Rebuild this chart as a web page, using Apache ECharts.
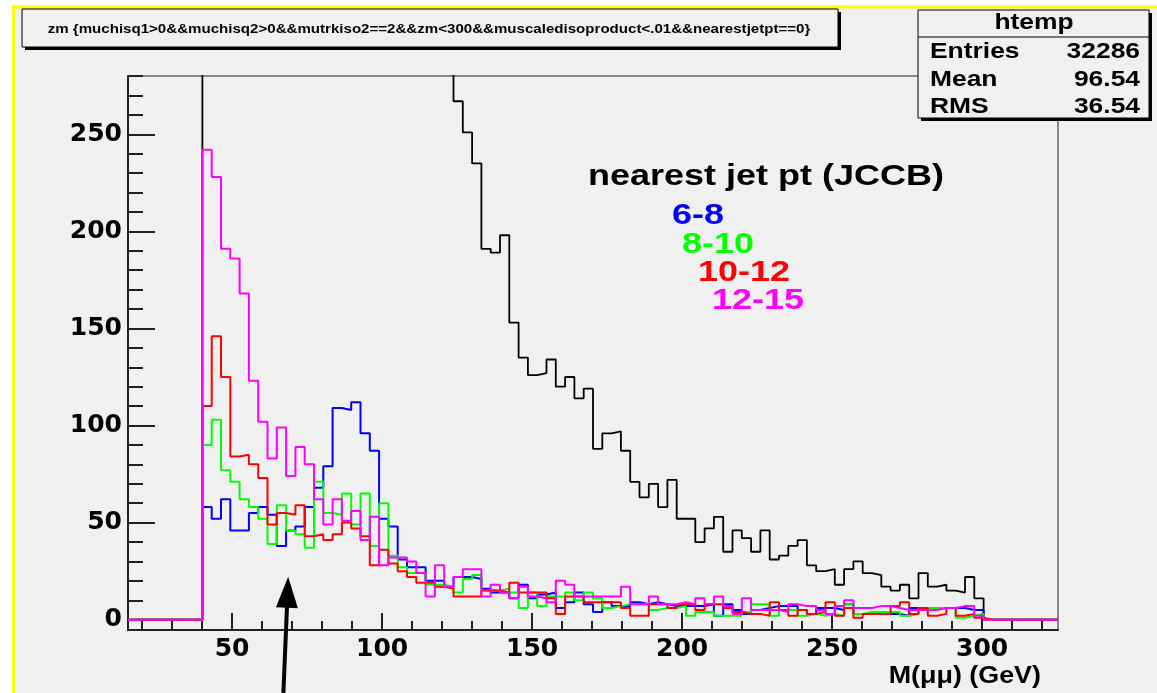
<!DOCTYPE html>
<html><head><meta charset="utf-8">
<script src="https://cdn.jsdelivr.net/npm/echarts@6/dist/echarts.min.js"></script>
<style>html,body{margin:0;padding:0;background:#fff}#c{width:1157px;height:693px}</style>
</head><body><div id="c"></div>
<script>
// Histogram binning (100 bins over the axis range)
const X_MIN = 15.3, X_MAX = 325.3, N_BINS = 100;
const Y_MIN = -5.3, Y_MAX = 280;
const FIRST_BIN = 8; // first non-empty bin (x ~ 40)

const xMajorTicks = [50, 100, 150, 200, 250, 300];
const xMinorTicks = [20, 30, 40, 50, 60, 70, 80, 90, 100, 110, 120, 130, 140, 150, 160, 170, 180, 190, 200, 210, 220, 230, 240, 250, 260, 270, 280, 290, 300, 310, 320];
const yMajorTicks = [0, 50, 100, 150, 200, 250];
const yMinorTicks = [0, 10, 20, 30, 40, 50, 60, 70, 80, 90, 100, 110, 120, 130, 140, 150, 160, 170, 180, 190, 200, 210, 220, 230, 240, 250, 260, 270, 280];

// counts for bins 8..91 (bins 8..34 of "all" are off-scale, estimated)
const countsAll = [450, 480, 500, 520, 560, 600, 650, 700, 780, 880, 1000, 1200, 1500, 1900, 2300, 2500, 2400, 2000, 1500, 1100, 800, 600, 480, 400, 350, 310, 290,
  267, 251, 235, 191, 189, 198, 153, 135, 126, 127, 134, 120, 125, 114, 119, 88, 96, 97, 87, 71, 63, 70, 58, 72, 52, 52, 40, 47, 53, 35, 46, 42, 35, 46, 31, 33, 38, 41,
  28, 25, 26, 18, 26, 30, 24, 23, 17, 15, 18, 11, 24, 17, 18, 15, 14, 22, 11];
const counts6to8 = [58, 52, 62, 46, 46, 55, 58, 54, 38, 46, 48, 58, 68, 79, 109, 108, 112, 96, 87, 52, 48, 31, 27, 27, 20, 20, 17, 22, 22, 21, 16, 14,
  14, 11, 18, 11, 13, 14, 6, 9, 14, 8, 4, 9, 7, 7, 9, 8, 9, 8, 7, 7, 7, 7, 8, 2, 8, 5, 3, 5, 6, 7, 7, 7, 5,
  3, 6, 6, 5, 8, 3, 3, 3, 3, 3, 2, 6, 6, 6, 6, 6, 6, 5, 5];
const counts8to10 = [90, 103, 77, 71, 62, 58, 52, 39, 59, 46, 44, 37, 71, 55, 54, 65, 49, 65, 38, 60, 33, 27, 24, 24, 18, 18, 17, 14, 21, 23, 15, 15,
  16, 14, 6, 14, 7, 12, 12, 14, 10, 14, 11, 6, 7, 8, 8, 8, 5, 6, 6, 7, 2, 4, 4, 2, 2, 2, 4, 8, 8, 2, 5, 5, 2,
  3, 2, 3, 2, 8, 3, 4, 4, 4, 4, 2, 3, 6, 6, 6, 6, 1, 2, 3];
const counts10to12 = [110, 146, 125, 84, 85, 80, 73, 49, 55, 54, 59, 43, 44, 41, 44, 50, 47, 43, 28, 36, 29, 25, 22, 19, 19, 17, 16, 12, 12, 12, 15, 15,
  14, 19, 14, 14, 14, 11, 3, 12, 12, 9, 9, 9, 9, 6, 2, 2, 8, 8, 6, 8, 8, 5, 8, 8, 6, 4, 3, 3, 2, 9, 5, 2, 5,
  3, 4, 9, 2, 6, 1, 3, 3, 3, 7, 9, 3, 6, 2, 3, 6, 2, 3, 1];
const counts12to15 = [242, 228, 191, 186, 168, 123, 102, 83, 99, 74, 89, 80, 62, 49, 62, 51, 56, 41, 53, 28, 32, 32, 30, 24, 12, 28, 17, 22, 26, 26, 12, 18,
  14, 11, 17, 12, 11, 9, 20, 18, 12, 12, 12, 12, 12, 17, 8, 8, 12, 8, 8, 9, 8, 11, 8, 12, 7, 3, 11, 5, 5, 5, 4, 8, 7,
  7, 5, 3, 7, 10, 6, 6, 7, 7, 6, 5, 5, 5, 5, 6, 6, 7, 7, 2];

const seriesNames = ['all', '6-8', '8-10', '10-12', '12-15'];
const seriesColors = ['#000000', '#0000ff', '#00ff00', '#ff0000', '#ff00ff'];
const seriesCounts = [countsAll, counts6to8, counts8to10, counts10to12, counts12to15];

function histPoints(counts) {
  const w = (X_MAX - X_MIN) / N_BINS;
  const pts = [];
  for (let i = 0; i < N_BINS; i++) {
    const j = i - FIRST_BIN;
    const v = (j >= 0 && j < counts.length) ? counts[j] : 0;
    pts.push([X_MIN + i * w, v]);
  }
  pts.push([X_MAX, 0]);
  return pts;
}

const chart = echarts.init(document.getElementById('c'), null, {renderer: 'canvas'});
const FONT = 'Liberation Sans';
const NUMFONT = 'DejaVu Sans';
const lab = {fontFamily: NUMFONT, fontWeight: 'bold', color: '#000'};

const option = {
  animation: false,
  backgroundColor: '#ffffff',
  grid: {left: 128, right: 99, top: 76, bottom: 63, show: true, borderColor: '#222', borderWidth: 1, backgroundColor: 'transparent'},
  xAxis: [
    {type: 'value', min: X_MIN, max: X_MAX, position: 'bottom',
     axisLine: {show: true, onZero: false, lineStyle: {color: '#222', width: 2}},
     axisTick: {show: true, inside: true, length: 17, customValues: xMajorTicks, lineStyle: {color: '#222', width: 2}},
     axisLabel: {show: true, customValues: xMajorTicks, margin: 7, fontSize: 25, ...lab},
     splitLine: {show: false}},
    {type: 'value', min: X_MIN, max: X_MAX, position: 'bottom',
     axisLine: {show: false, onZero: false},
     axisTick: {show: true, inside: true, length: 9, customValues: xMinorTicks, lineStyle: {color: '#222', width: 2}},
     axisLabel: {show: false}, splitLine: {show: false}}
  ],
  yAxis: [
    {type: 'value', min: Y_MIN, max: Y_MAX, position: 'left',
     axisLine: {show: true, onZero: false, lineStyle: {color: '#222', width: 2}},
     axisTick: {show: true, inside: true, length: 27, customValues: yMajorTicks, lineStyle: {color: '#222', width: 2}},
     axisLabel: {show: true, customValues: yMajorTicks, margin: 6, fontSize: 25, ...lab},
     splitLine: {show: false}},
    {type: 'value', min: Y_MIN, max: Y_MAX, position: 'left',
     axisLine: {show: false, onZero: false},
     axisTick: {show: true, inside: true, length: 15, customValues: yMinorTicks, lineStyle: {color: '#222', width: 2}},
     axisLabel: {show: false}, splitLine: {show: false}}
  ],
  series: seriesCounts.map((c, k) => ({
    name: seriesNames[k], type: 'line', step: 'end', data: histPoints(c),
    xAxisIndex: 0, yAxisIndex: 0, symbol: 'none', clip: true, z: 2 + k,
    lineStyle: {color: seriesColors[k], width: k === 0 ? 1.8 : 2}
  })),
  graphic: []
};
chart.setOption(option);

// decorations: canvas frame, title box, stats box, labels, arrow
const tip = chart.convertToPixel({xAxisIndex: 0, yAxisIndex: 0}, [68.7, 22.1]);
const tail = chart.convertToPixel({xAxisIndex: 0, yAxisIndex: 0}, [67.1, -37.7]);
const headLen = 31, headHalf = 11;
const dx = tip[0] - tail[0], dy = tip[1] - tail[1];
const L = Math.sqrt(dx * dx + dy * dy), ux = dx / L, uy = dy / L;
const bx = tip[0] - ux * headLen, by = tip[1] - uy * headLen;

const SX = 1.2; // ROOT's Helvetica is rendered wider
const txt = (x, y, text, size, color, align, sx) => ({
  type: 'text', x: x, y: y, z: 120, scaleX: sx || SX,
  style: {text: text, fill: color, font: 'bold ' + size + 'px "' + FONT + '"', textAlign: align || 'left', textVerticalAlign: 'middle'}
});

chart.setOption({graphic: [
  {type: 'rect', z: -100, shape: {x: 13.5, y: 7, width: 1200, height: 800}, style: {fill: '#f0f0f0', stroke: '#ffff00', lineWidth: 3}},
  // title box
  {type: 'rect', z: 100, shape: {x: 25, y: 12, width: 816, height: 38}, style: {fill: '#000'}},
  {type: 'rect', z: 101, shape: {x: 22, y: 9, width: 816, height: 38}, style: {fill: '#f0f0f0', stroke: '#000', lineWidth: 1}},
  txt(429, 29, 'zm {muchisq1>0&&muchisq2>0&&mutrkiso2==2&&zm<300&&muscaledisoproduct<.01&&nearestjetpt==0}', 13, '#000', 'center', 1.16),
  // stats box
  {type: 'rect', z: 100, shape: {x: 921, y: 13, width: 231, height: 108}, style: {fill: '#000'}},
  {type: 'rect', z: 101, shape: {x: 918, y: 10, width: 231, height: 108}, style: {fill: '#f0f0f0', stroke: '#000', lineWidth: 1}},
  {type: 'line', z: 102, shape: {x1: 918, y1: 37, x2: 1149, y2: 37}, style: {stroke: '#000', lineWidth: 1}},
  txt(1034, 23, 'htemp', 22, '#000', 'center'),
  txt(930, 52, 'Entries', 22, '#000', 'left'),
  txt(1140, 52, '32286', 22, '#000', 'right'),
  txt(930, 80, 'Mean', 22, '#000', 'left'),
  txt(1140, 80, '96.54', 22, '#000', 'right'),
  txt(930, 107, 'RMS', 22, '#000', 'left'),
  txt(1140, 107, '36.54', 22, '#000', 'right'),
  // legend text
  txt(588, 177, 'nearest jet pt (JCCB)', 30, '#000', 'left'),
  txt(672, 216, '6-8', 30, seriesColors[1], 'left'),
  txt(682, 245, '8-10', 30, seriesColors[2], 'left'),
  txt(698, 273, '10-12', 30, seriesColors[3], 'left'),
  txt(712, 301, '12-15', 30, seriesColors[4], 'left'),
  // axis title
  txt(1041, 676, 'M(μμ) (GeV)', 24, '#000', 'right', 1.12),
  // arrow
  {type: 'line', z: 110, shape: {x1: tail[0], y1: tail[1], x2: bx + ux * 2, y2: by + uy * 2}, style: {stroke: '#000', lineWidth: 4}},
  {type: 'polygon', z: 110, shape: {points: [[tip[0], tip[1]], [bx - uy * headHalf, by + ux * headHalf], [bx + uy * headHalf, by - ux * headHalf]]}, style: {fill: '#000'}}
]});
</script></body></html>
